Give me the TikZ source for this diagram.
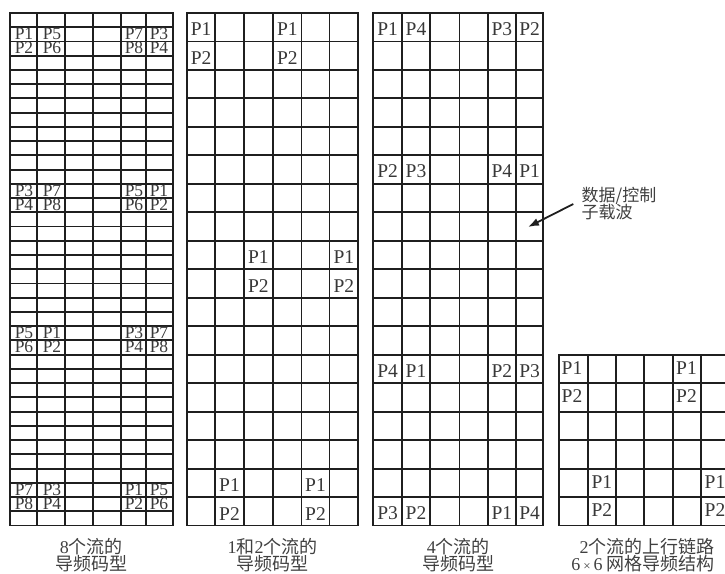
\documentclass[tikz,border=0pt]{standalone}
\usepackage{fontspec}
\setmainfont{Liberation Serif}
\newfontfamily\cjk{Noto Sans CJK SC}
\usetikzlibrary{arrows.meta}
\begin{document}
\begin{tikzpicture}[x=1pt,y=-1pt,
  gridline/.style={line width=1.9pt, draw=black!88, line cap=rect},
  plab/.style={font=\fontsize{19.5}{20}\selectfont, text=black!78, inner sep=0pt, anchor=base, text height=13pt, text depth=0pt},
  slab/.style={font=\fontsize{17.5}{18}\selectfont, text=black!78, inner sep=0pt, anchor=base, text height=11.5pt, text depth=0pt},
  captxt/.style={font=\cjk\fontsize{18}{18}\selectfont, text=black!75, inner sep=0pt, anchor=base, text height=14pt, text depth=2pt},
  notetxt/.style={font=\cjk\fontsize{17}{17}\selectfont, text=black!75, inner sep=0pt, anchor=base west, text height=13.5pt, text depth=2pt},
  arrowline/.style={line width=1.8pt, draw=black!88, -{Latex[length=11pt,width=8pt]}},
]
\useasboundingbox (0,0) rectangle (725,573);
\clip (0,0) rectangle (725,573);
\def\gtop{13}
\def\gbot{525.5}
% ---------- grid 1: 8 streams (6 x 36)
\foreach \x in {10,36.7,65,92.7,120.7,145.7,172.7}
  \draw[gridline] (\x,\gtop) -- (\x,\gbot);
\foreach \i in {0,...,36}
  \draw[gridline] (10,{\gtop+\i*14.236}) -- (172.7,{\gtop+\i*14.236});
\foreach \r/\a/\b/\c/\d in {1/P1/P5/P7/P3, 2/P2/P6/P8/P4, 12/P3/P7/P5/P1, 13/P4/P8/P6/P2,
                           22/P5/P1/P3/P7, 23/P6/P2/P4/P8, 33/P7/P3/P1/P5, 34/P8/P4/P2/P6}{
  \node[slab] (ga-\r-0) at (24,{\gtop+(\r+1)*14.236-1.8}) {\a};
  \node[slab] (ga-\r-1) at (52,{\gtop+(\r+1)*14.236-1.8}) {\b};
  \node[slab] (ga-\r-4) at (134,{\gtop+(\r+1)*14.236-1.8}) {\c};
  \node[slab] (ga-\r-5) at (159,{\gtop+(\r+1)*14.236-1.8}) {\d};
}
% ---------- grid 2: 1 and 2 streams (6 x 18)
\foreach \x in {187,215.3,243.7,273,301.5,329.5,358.3}
  \draw[gridline] (\x,\gtop) -- (\x,\gbot);
\foreach \i in {0,...,18}
  \draw[gridline] (187,{\gtop+\i*28.472}) -- (358.3,{\gtop+\i*28.472});
\foreach \r/\t/\xa/\xb in {0/P1/201.2/287.3, 1/P2/201.2/287.3,
                          8/P1/258.4/343.9, 9/P2/258.4/343.9,
                          16/P1/229.5/315.5, 17/P2/229.5/315.5}{
  \node[plab] (gb-\r-a) at (\xa,{\gtop+(\r+1)*28.472-5.5}) {\t};
  \node[plab] (gb-\r-b) at (\xb,{\gtop+(\r+1)*28.472-5.5}) {\t};
}
% ---------- grid 3: 4 streams (6 x 18)
\foreach \x in {373.3,402,430,459.5,487.8,515.8,543.3}
  \draw[gridline] (\x,\gtop) -- (\x,\gbot);
\foreach \i in {0,...,18}
  \draw[gridline] (373.3,{\gtop+\i*28.472}) -- (543.3,{\gtop+\i*28.472});
\foreach \r/\a/\b/\c/\d in {0/P1/P4/P3/P2, 5/P2/P3/P4/P1, 12/P4/P1/P2/P3, 17/P3/P2/P1/P4}{
  \node[plab] (gc-\r-0) at (387.7,{\gtop+(\r+1)*28.472-6}) {\a};
  \node[plab] (gc-\r-1) at (416,{\gtop+(\r+1)*28.472-6}) {\b};
  \node[plab] (gc-\r-4) at (501.8,{\gtop+(\r+1)*28.472-6}) {\c};
  \node[plab] (gc-\r-5) at (529.6,{\gtop+(\r+1)*28.472-6}) {\d};
}
% ---------- grid 4: 6 x 6 uplink
\def\htop{354.7}
\foreach \x in {559,587.7,616,644.3,672.7,701,729.4}
  \draw[gridline] (\x,\htop) -- (\x,\gbot);
\foreach \i in {0,...,6}
  \draw[gridline] (559,{\htop+\i*28.472}) -- (729.4,{\htop+\i*28.472});
\foreach \r/\t/\xa/\xb in {0/P1/572/686.5, 1/P2/572/686.5, 4/P1/601.8/715, 5/P2/601.8/715}{
  \node[plab] (gd-\r-a) at (\xa,{\htop+(\r+1)*28.472-9}) {\t};
  \node[plab] (gd-\r-b) at (\xb,{\htop+(\r+1)*28.472-9}) {\t};
}
% ---------- captions
\node[captxt] (cap1a) at (91.4,553) {{\rmfamily 8}个流的};
\node[captxt] (cap1b) at (91.4,570) {导频码型};
\node[captxt] (cap2a) at (272.7,553) {{\rmfamily 1}和{\rmfamily 2}个流的};
\node[captxt] (cap2b) at (272.7,570) {导频码型};
\node[captxt] (cap3a) at (458.3,553) {{\rmfamily 4}个流的};
\node[captxt] (cap3b) at (458.3,570) {导频码型};
\node[captxt] (cap4a) at (647,553) {{\rmfamily 2}个流的上行链路};
\node[captxt] (cap4b) at (643,570) {{\rmfamily 6\,{\fontsize{13}{13}\selectfont ×}\,6} 网格导频结构};
% ---------- note and arrow
\node[notetxt] (note1) at (581.5,201.5) {数据/控制};
\node[notetxt] (note2) at (581.5,218) {子载波};
\coordinate (arrs) at (573.3,204);
\coordinate (arre) at (528,227);
\draw[arrowline] (arrs) -- (arre);
\end{tikzpicture}
\end{document}
